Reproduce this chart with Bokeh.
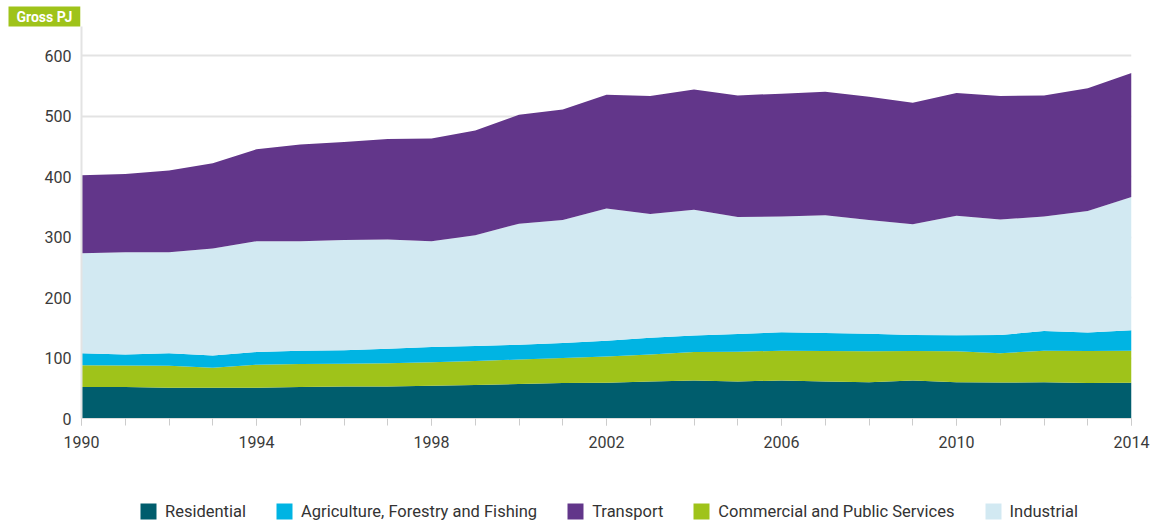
from bokeh.plotting import figure
from bokeh.models import ColumnDataSource, Legend, LegendItem, FixedTicker, Range1d
from bokeh.layouts import column
from bokeh.embed import file_html
from bokeh.resources import INLINE

years = list(range(1990, 2015))
residential = [52, 52, 51, 51, 51, 52, 53, 53, 54, 55.5, 57, 58.5, 59, 61, 63, 61, 63, 61, 60, 63, 60, 59.5, 60, 58.5, 59]
commercial = [36, 35.5, 36, 33, 38, 38, 37.5, 38.5, 39, 39.5, 40.5, 41.5, 43.5, 45, 47, 49.5, 49, 50.5, 51, 48.5, 51, 48.5, 52, 53, 53]
agriculture = [20, 18.5, 21, 20, 21, 22, 22.5, 24, 25, 25, 24.5, 25, 26, 27.5, 27, 29, 30.5, 30, 29, 26.5, 26.5, 30, 32.5, 30.5, 34]
industrial = [165, 169, 167, 177, 183, 181, 182, 180.5, 175, 183, 200, 203, 218.5, 204.5, 208, 193.5, 191.5, 194.5, 188, 183, 197.5, 191, 189.5, 201, 220]
transport = [129, 129, 135, 141, 152, 160, 162, 166, 170, 173, 180, 183, 188, 195, 199, 201, 203, 204, 204, 201, 203, 204, 200, 203, 205]

label_ticks = [1990, 1994, 1998, 2002, 2006, 2010, 2014]
y_ticks = [0, 100, 200, 300, 400, 500, 600]

names = ["Residential", "Commercial and Public Services", "Agriculture, Forestry and Fishing", "Industrial", "Transport"]
keys = ["residential", "commercial", "agriculture", "industrial", "transport"]
colors = ["#005d6d", "#9fc31a", "#00b4e3", "#d2e9f2", "#62368a"]

src = ColumnDataSource(dict(year=years, residential=residential, commercial=commercial,
                            agriculture=agriculture, industrial=industrial, transport=transport))

p = figure(width=1150, height=470, output_backend="svg", toolbar_location=None,
           x_range=Range1d(1990, 2014), y_range=Range1d(0, 648),
           min_border_left=81, min_border_right=19, min_border_top=26, min_border_bottom=52)
p.outline_line_color = None
p.background_fill_color = "white"

rs = p.varea_stack(stackers=keys, x="year", color=colors, source=src)

# axes
p.xaxis.ticker = FixedTicker(ticks=label_ticks, minor_ticks=years)
p.xaxis.axis_line_color = "#dddddd"
p.xaxis.major_tick_line_color = "#cccccc"
p.xaxis.minor_tick_line_color = "#cccccc"
p.xaxis.major_tick_in = 0
p.xaxis.minor_tick_in = 0
p.xaxis.major_tick_out = 7
p.xaxis.minor_tick_out = 7
p.xaxis.major_label_standoff = 10
p.xaxis.major_label_text_font = "Roboto"
p.xaxis.major_label_text_font_size = "16px"
p.xaxis.major_label_text_color = "#3a3a3a"

p.yaxis.ticker = FixedTicker(ticks=y_ticks)
p.yaxis.axis_line_color = "#e3e3e3"
p.yaxis.axis_line_width = 2
p.yaxis.major_tick_line_color = None
p.yaxis.minor_tick_line_color = None
p.yaxis.major_tick_out = 0
p.yaxis.major_label_standoff = 10
p.yaxis.major_label_text_font = "Roboto"
p.yaxis.major_label_text_font_size = "16px"
p.yaxis.major_label_text_color = "#3a3a3a"

p.xgrid.grid_line_color = None
p.ygrid.grid_line_color = "#e3e3e3"
p.ygrid.grid_line_width = 2

# unit label as title box
p.title.text = "Gross PJ"
p.title.align = "left"
p.title.offset = -73
p.title.text_color = "white"
p.title.text_font = "Roboto"
p.title.text_font_style = "bold"
p.title.text_font_size = "14px"
p.title.background_fill_color = "#9fc31a"
p.title.padding = (8, 2)
p.title.standoff = 0

# legend in a strip below the chart
lg = figure(width=1150, height=53, output_backend="svg", toolbar_location=None,
            x_range=Range1d(0, 1), y_range=Range1d(0, 1),
            min_border_left=0, min_border_right=0, min_border_top=0, min_border_bottom=0)
lg.axis.visible = False
lg.grid.visible = False
lg.outline_line_color = None
dummies = {k: lg.varea(x=[5, 6], y1=[5, 5], y2=[6, 6], color=c) for k, c in zip(keys, colors)}

order = [0, 2, 4, 1, 3]
items = [LegendItem(label=names[i], renderers=[dummies[keys[i]]]) for i in order]
legend = Legend(items=items, orientation="horizontal", location=(57, 2),
                glyph_width=20, glyph_height=20, label_standoff=7, spacing=28,
                padding=0, margin=0, border_line_color=None, background_fill_alpha=0,
                label_text_font="Roboto", label_text_font_size="16.5px", label_text_color="#333333")
lg.add_layout(legend, "center")

open("out.html", "w").write(file_html(column(p, lg, spacing=0), INLINE))
